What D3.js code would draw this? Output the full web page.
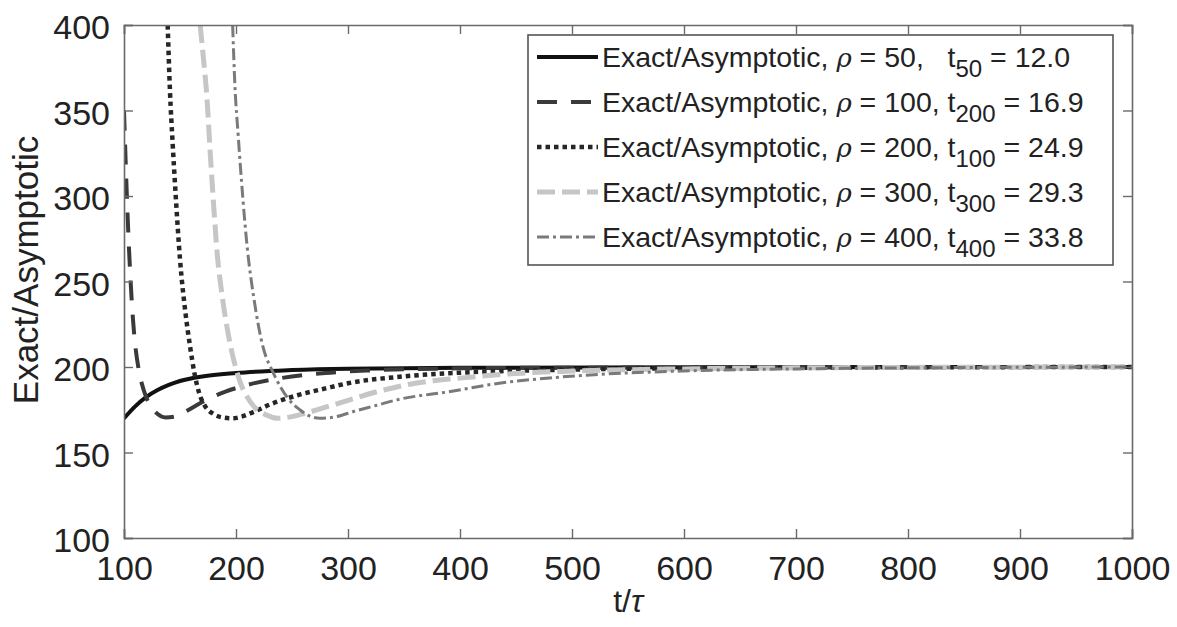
<!DOCTYPE html>
<html><head><meta charset="utf-8">
<script src="https://cdn.jsdelivr.net/npm/d3@7"></script>
<style>
html,body{margin:0;padding:0;background:#fff;}
text{font-family:"Liberation Sans",Arial,sans-serif;fill:#222;}
</style></head>
<body><svg id="c" width="1177" height="627"></svg>
<script>
const xTicks = [100,200,300,400,500,600,700,800,900,1000];
const yTicks = [100,150,200,250,300,350,400];

const rho50 = [[100,170],[110,177],[120,182.5],[130,186.5],[140,189.5],[150,191.8],[170,194.5],[200,196.5],[250,198.2],[300,199],[400,199.5],[600,199.8],[1000,200]];
const rho100 = [[100,350],[102,310],[104,276],[106,249],[108,228],[110,213],[113,199],[116,190],[120,182],[125,176],[130,172.5],[137,170.5],[145,171],[155,174],[170,179.5],[190,185.5],[210,189.5],[240,193.5],[280,196.5],[320,198],[400,199.2],[500,199.6],[1000,200]];
const rho200 = [[139,400],[141,362],[143.5,330],[146,302],[150,263],[155,231],[159,212],[163,196],[167,185],[172,177.5],[180,172.5],[190,170.3],[197,170],[205,171],[215,173.5],[230,178],[255,183.5],[280,187.5],[300,190.5],[350,194.5],[400,196.7],[450,197.8],[500,198.5],[600,199.3],[700,199.6],[1000,200]];
const rho300 = [[168,400],[171,380],[174,358],[177,325],[180,295],[183,268],[188,240],[194,216],[200,199],[205,189],[210,182.5],[218,175.5],[227,172],[237,170],[250,171],[265,173.5],[280,176.5],[300,180.5],[320,184.5],[360,190.5],[400,193.5],[450,196.2],[500,197.6],[600,198.9],[700,199.5],[1000,200]];
const rho400 = [[197,400],[199,365],[202,335],[205,308],[210,270],[216,240],[224,212],[233,197],[240,188],[246,182],[257,175],[265,171.5],[275,170],[290,171],[305,174],[325,177.5],[345,181],[390,185.5],[435,190.5],[480,193.6],[520,195.5],[600,197.7],[700,198.9],[800,199.5],[1000,200]];

const seriesNames = ["rho50","rho100","rho200","rho300","rho400"];
const rhoLabels = ["50","100","200","300","400"];
const tSubs = ["50","200","100","300","400"];
const tValues = ["12.0","16.9","24.9","29.3","33.8"];
const seriesData = [rho50,rho100,rho200,rho300,rho400];

const styles = [
  {stroke:"#111", width:4, dash:null},
  {stroke:"#3a3a3a", width:4, dash:"20,14"},
  {stroke:"#262626", width:4.5, dash:"4.5,4"},
  {stroke:"#c6c6c6", width:5, dash:"18,7"},
  {stroke:"#7a7a7a", width:3, dash:"12,4,3,4"}
];

const svg = d3.select("#c");
const L=124, R=1132, T=25, B=538;
const x = d3.scaleLinear().domain([100,1000]).range([L,R]);
const y = d3.scaleLinear().domain([100,400]).range([B,T]);

svg.append("defs").append("clipPath").attr("id","clip")
  .append("rect").attr("x",L).attr("y",T).attr("width",R-L).attr("height",B-T);

const line = d3.line().x(d=>x(d[0])).y(d=>y(d[1])).curve(d3.curveMonotoneX);
const g = svg.append("g").attr("clip-path","url(#clip)");
seriesData.forEach((d,i)=>{
  g.append("path").attr("d",line(d)).attr("fill","none")
   .attr("stroke",styles[i].stroke).attr("stroke-width",styles[i].width)
   .attr("stroke-dasharray",styles[i].dash);
});

// axes
const axCol="#6a6a6a";
const axB = svg.append("g").attr("transform",`translate(0,${B})`)
  .call(d3.axisBottom(x).tickValues(xTicks).tickSize(-9).tickPadding(18).tickFormat(d3.format("d")));
const axT = svg.append("g").attr("transform",`translate(0,${T})`)
  .call(d3.axisTop(x).tickValues(xTicks).tickSize(-9).tickFormat(""));
const axL = svg.append("g").attr("transform",`translate(${L},0)`)
  .call(d3.axisLeft(y).tickValues(yTicks).tickSize(-9).tickPadding(14).tickFormat(d3.format("d")));
const axR = svg.append("g").attr("transform",`translate(${R},0)`)
  .call(d3.axisRight(y).tickValues(yTicks).tickSize(-9).tickFormat(""));
[axB,axT,axL,axR].forEach(a=>{
  a.selectAll("path.domain").attr("stroke",axCol).attr("stroke-width",1.6);
  a.selectAll(".tick line").attr("stroke",axCol).attr("stroke-width",1.4);
  a.selectAll("text").attr("font-size",34).attr("font-family","Liberation Sans, Arial, sans-serif").attr("fill","#222");
});
axB.selectAll("text").attr("dy","0.71em");
axL.selectAll("text").attr("dy","0.40em");

// axis labels
svg.append("text").attr("x",(L+R)/2).attr("y",612).attr("text-anchor","middle").attr("font-size",32)
  .html('t/<tspan font-style="italic">τ</tspan>');
svg.append("text").attr("transform","translate(38,270) rotate(-90)").attr("text-anchor","middle")
  .attr("font-size",35).text("Exact/Asymptotic");

// legend
const lg = svg.append("g");
lg.append("rect").attr("x",528).attr("y",35).attr("width",585).attr("height",230)
  .attr("fill","#fff").attr("stroke","#555").attr("stroke-width",1.6);
const rowY = d3.scaleLinear().domain([0,4]).range([57,237]);
seriesNames.forEach((n,i)=>{
  const yy = rowY(i);
  lg.append("line").attr("x1",537).attr("x2",598).attr("y1",yy).attr("y2",yy)
    .attr("stroke",styles[i].stroke).attr("stroke-width",styles[i].width)
    .attr("stroke-dasharray",styles[i].dash);
  const t = lg.append("text").attr("x",602).attr("y",yy+10).attr("font-size",28.5)
    .style("white-space","pre");
  t.append("tspan").text("Exact/Asymptotic, ");
  t.append("tspan").attr("font-style","italic").attr("font-family","DejaVu Serif, serif").attr("font-size",26).text("ρ");
  t.append("tspan").text(" = " + rhoLabels[i] + "," + (i===0 ? "   " : " ") + "t");
  t.append("tspan").attr("font-size",24).attr("dy",10).text(tSubs[i]);
  t.append("tspan").attr("dy",-10).text(" = " + tValues[i]);
});
</script></body></html>
